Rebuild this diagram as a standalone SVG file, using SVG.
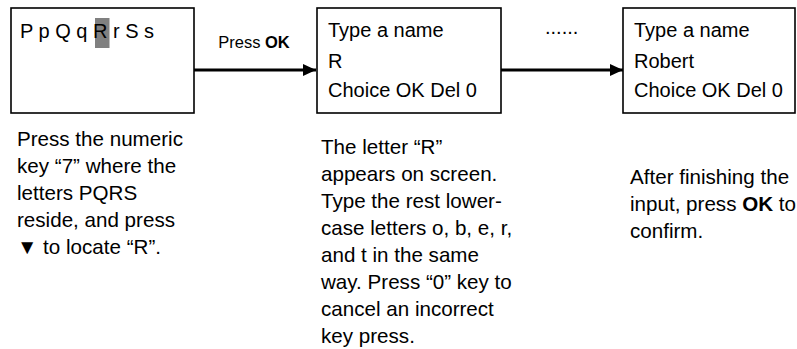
<svg xmlns="http://www.w3.org/2000/svg" width="797" height="349" viewBox="0 0 797 349">
<style>
text{font-family:"Liberation Sans",Arial,sans-serif;fill:#000}
.box{fill:#fff;stroke:#000;stroke-width:1.6}
.bt{font-size:20px}
.ds{font-size:20.6px}
.lbl{font-size:16.5px}
.con{stroke:#000;stroke-width:3;fill:none}
</style>
<defs>
<marker id="ah" markerUnits="userSpaceOnUse" markerWidth="14" markerHeight="12" refX="13" refY="6" orient="auto">
<polygon points="0,0 13,6 0,12" fill="#000"/>
</marker>
</defs>
<rect width="797" height="349" fill="#fff"/>
<g id="connectors">
<line class="con" x1="194" y1="70" x2="316" y2="70" marker-end="url(#ah)"/>
<line class="con" x1="501" y1="70" x2="623" y2="70" marker-end="url(#ah)"/>
<text class="lbl" x="254" y="48" text-anchor="middle">Press <tspan font-weight="bold">OK</tspan></text>
<text class="bt" x="545" y="34">......</text>
</g>
<g id="node1">
<rect class="box" x="11" y="8" width="183" height="105"/>
<rect x="95" y="18" width="14.5" height="30" fill="#808080"/>
<text class="bt" x="20" y="38" font-size="20.5" xml:space="preserve">P p Q q R r S s</text>
</g>
<g id="node2">
<rect class="box" x="317" y="8" width="184" height="105"/>
<text class="bt" x="328" y="37">Type a name</text>
<text class="bt" x="328" y="68">R</text>
<text class="bt" x="328" y="97">Choice OK Del 0</text>
</g>
<g id="node3">
<rect class="box" x="623" y="8" width="172" height="105"/>
<text class="bt" x="634" y="37">Type a name</text>
<text class="bt" x="634" y="68">Robert</text>
<text class="bt" x="634" y="97">Choice OK Del 0</text>
</g>
<g id="desc1">
<text class="ds" x="17">
<tspan x="17" y="146">Press the numeric</tspan>
<tspan x="17" y="173">key “7” where the</tspan>
<tspan x="17" y="200">letters PQRS</tspan>
<tspan x="17" y="227">reside, and press</tspan>
<tspan x="17" y="254">▼ to locate “R”.</tspan>
</text>
</g>
<g id="desc2">
<text class="ds" x="321">
<tspan x="321" y="154">The letter “R”</tspan>
<tspan x="321" y="181">appears on screen.</tspan>
<tspan x="321" y="208">Type the rest lower-</tspan>
<tspan x="321" y="235">case letters o, b, e, r,</tspan>
<tspan x="321" y="262">and t in the same</tspan>
<tspan x="321" y="289">way. Press “0” key to</tspan>
<tspan x="321" y="316">cancel an incorrect</tspan>
<tspan x="321" y="343">key press.</tspan>
</text>
</g>
<g id="desc3">
<text class="ds" x="630">
<tspan x="630" y="184">After finishing the</tspan>
<tspan x="630" y="211">input, press <tspan font-weight="bold">OK</tspan> to</tspan>
<tspan x="630" y="238">confirm.</tspan>
</text>
</g>
</svg>
